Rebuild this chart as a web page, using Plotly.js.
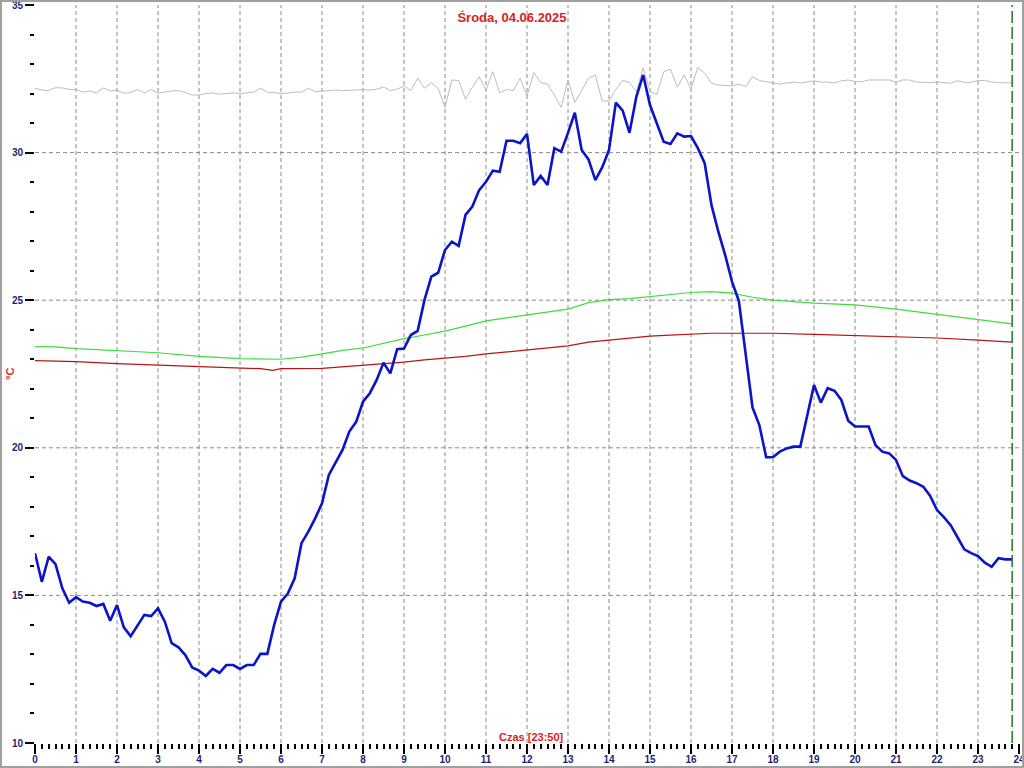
<!DOCTYPE html>
<html>
<head>
<meta charset="utf-8">
<script src="https://cdn.plot.ly/plotly-3.0.1.min.js"></script>
<style>
html,body{margin:0;padding:0;background:#fff;overflow:hidden;}
#wrap{position:relative;width:1024px;height:768px;}
#chart{position:absolute;left:0;top:0;width:1024px;height:768px;}
#frame{position:absolute;left:0;top:0;width:1024px;height:768px;box-sizing:border-box;border:2px solid #a0a0a0;pointer-events:none;}
</style>
</head>
<body>
<div id="wrap"><div id="chart"></div><div id="frame"></div></div>
<script>
// ---- DATA (10-minute samples, one row per hour) ----
const titleText = 'Środa, 04.06.2025';
const xTitleText = 'Czas [23:50]';
const yTitleText = '°C';
const hourTicks = [0,1,2,3,4,5,6,7,8,9,10,11,12,13,14,15,16,17,18,19,20,21,22,23,24];
const tempTicks = [10,15,20,25,30,35];
const gridHours = [1,2,3,4,5,6,7,8,9,10,11,12,13,14,15,16,17,18,19,20,21,22,23];
const gridTemps = [15,20,25,30];
const samplesPerHour = 6;

const outdoorTemp = [
  16.43, 15.46, 16.31, 16.06, 15.24, 14.75,
  14.94, 14.79, 14.75, 14.64, 14.71, 14.14,
  14.67, 13.92, 13.62, 13.96, 14.34, 14.30,
  14.56, 14.11, 13.38, 13.24, 12.98, 12.56,
  12.45, 12.27, 12.51, 12.38, 12.64, 12.64,
  12.51, 12.64, 12.64, 13.02, 13.02, 14.00,
  14.79, 15.06, 15.58, 16.77, 17.16, 17.61,
  18.12, 19.08, 19.53, 19.93, 20.55, 20.88,
  21.56, 21.85, 22.30, 22.88, 22.52, 23.34,
  23.36, 23.82, 23.96, 25.01, 25.80, 25.93,
  26.70, 26.98, 26.84, 27.89, 28.17, 28.73,
  29.01, 29.39, 29.35, 30.40, 30.40, 30.32,
  30.63, 28.90, 29.21, 28.90, 30.15, 30.03,
  30.67, 31.35, 30.09, 29.77, 29.07, 29.50,
  30.09, 31.69, 31.42, 30.67, 31.89, 32.63,
  31.61, 30.99, 30.37, 30.29, 30.65, 30.54,
  30.56, 30.15, 29.64, 28.22, 27.32, 26.53,
  25.63, 24.98, 23.09, 21.37, 20.77, 19.68,
  19.68, 19.87, 19.98, 20.04, 20.04, 21.11,
  22.13, 21.53, 22.02, 21.93, 21.62, 20.92,
  20.72, 20.72, 20.72, 20.09, 19.87, 19.81,
  19.59, 19.04, 18.89, 18.80, 18.68, 18.37,
  17.89, 17.65, 17.38, 16.97, 16.56, 16.43,
  16.33, 16.11, 15.97, 16.26, 16.22, 16.22
];

const greySeries = [
  32.18, 32.12, 32.10, 32.20, 32.19, 32.14,
  32.14, 32.05, 32.09, 32.02, 32.19, 32.09,
  32.12, 32.01, 32.04, 32.14, 32.02, 32.14,
  32.01, 32.05, 32.09, 32.10, 32.04, 31.95,
  31.95, 32.00, 32.02, 31.98, 32.00, 32.02,
  32.00, 32.03, 32.05, 32.18, 32.05, 32.03,
  32.00, 32.02, 32.05, 32.05, 32.18, 32.06,
  32.08, 32.10, 32.12, 32.10, 32.12, 32.12,
  32.13, 32.12, 32.15, 32.22, 32.10, 32.15,
  32.26, 32.10, 32.52, 32.18, 32.37, 32.18,
  31.53, 32.46, 32.44, 31.81, 32.21, 32.57,
  32.12, 32.74, 32.03, 32.14, 32.10, 32.52,
  31.92, 32.71, 32.37, 32.32, 31.95, 31.53,
  32.46, 31.70, 32.10, 32.52, 32.63, 31.75,
  31.75, 32.14, 32.45, 32.37, 32.07, 32.87,
  32.07, 31.97, 32.74, 32.82, 32.22, 32.63,
  32.15, 32.89, 32.69, 32.35, 32.29, 32.27,
  32.26, 32.32, 32.23, 32.57, 32.44, 32.40,
  32.36, 32.32, 32.36, 32.39, 32.36, 32.39,
  32.43, 32.39, 32.39, 32.36, 32.43, 32.46,
  32.41, 32.40, 32.46, 32.46, 32.46, 32.46,
  32.39, 32.46, 32.46, 32.39, 32.38, 32.37,
  32.39, 32.37, 32.35, 32.43, 32.38, 32.38,
  32.44, 32.45, 32.39, 32.37, 32.37, 32.36
];

const greenTimes = [0,0.5,1,2,3,4,5,6,6.5,7,7.5,8,8.5,9,9.5,10,10.5,11,11.5,12,12.5,13,13.5,14,14.5,15,15.5,16,16.5,17,17.5,18,19,20,21,22,23,23.83];
const greenTemp  = [23.43,23.42,23.36,23.30,23.22,23.10,23.02,23.00,23.07,23.18,23.30,23.38,23.55,23.70,23.82,23.95,24.12,24.30,24.40,24.50,24.58,24.70,24.92,25.02,25.05,25.12,25.20,25.26,25.29,25.24,25.10,25.00,24.90,24.84,24.70,24.52,24.35,24.20];

const redTimes = [0,1,2,3,4,5,5.5,5.8,6,7,7.5,8,9,9.5,10,10.5,11,11.5,12,12.5,13,13.5,14,14.5,15,15.5,16,16.5,17,18,19,19.5,20,21,22,23,23.83];
const redTemp  = [22.95,22.92,22.85,22.80,22.75,22.70,22.68,22.62,22.68,22.69,22.74,22.80,22.90,22.98,23.03,23.10,23.18,23.25,23.33,23.38,23.45,23.58,23.65,23.72,23.78,23.82,23.86,23.88,23.88,23.88,23.84,23.82,23.80,23.76,23.72,23.65,23.58];

// sample times in hours
const sampleTimes = outdoorTemp.map((_, i) => i / samplesPerHour);
const lastTime = sampleTimes[sampleTimes.length - 1];

const FONT = 'Liberation Sans, Arial, sans-serif';
const NAVY = '#1f1f72';
const RED = '#dd1c1c';

const traces = [
  {x: sampleTimes, y: greySeries, type: 'scatter', mode: 'lines',
   line: {color: '#bdbdbd', width: 1}, hoverinfo: 'skip'},
  {x: greenTimes, y: greenTemp, type: 'scatter', mode: 'lines',
   line: {color: '#3fdc3f', width: 1.2}},
  {x: redTimes, y: redTemp, type: 'scatter', mode: 'lines',
   line: {color: '#b81414', width: 1.2}},
  {x: sampleTimes, y: outdoorTemp, type: 'scatter', mode: 'lines',
   line: {color: '#0a14c8', width: 2.6}}
];

const gridStyle = {color: '#8a8a8a', width: 1, dash: '4px,3px'};
const shapes = [];
gridHours.forEach(h => shapes.push({type: 'line', xref: 'x', yref: 'paper', x0: h, x1: h, y0: 0, y1: 1, layer: 'below', line: gridStyle}));
gridTemps.forEach(t => shapes.push({type: 'line', xref: 'paper', yref: 'y', x0: 0, x1: 1, y0: t, y1: t, layer: 'below', line: gridStyle}));
shapes.push({type: 'line', xref: 'x', yref: 'paper', x0: lastTime, x1: lastTime, y0: 0, y1: 1, layer: 'above',
  line: {color: '#1f7a1f', width: 1.5, dash: '12px,4px'}});

const layout = {
  width: 1024, height: 768,
  margin: {l: 35, r: 5, t: 5, b: 25},
  paper_bgcolor: '#ffffff', plot_bgcolor: '#ffffff',
  showlegend: false,
  title: {text: titleText, x: 0.5, xref: 'container', xanchor: 'center', y: 1 - 17/768, yref: 'container', yanchor: 'middle',
    font: {family: FONT, size: 13, color: RED, weight: 'bold'}},
  xaxis: {range: [0, 24], tickvals: hourTicks, ticktext: hourTicks.map(String),
    ticks: 'outside', ticklen: 10, tickwidth: 2, tickcolor: '#000',
    minor: {dtick: 1/6, tick0: 0, ticks: 'outside', ticklen: 5, tickwidth: 2, tickcolor: '#000', showgrid: false},
    showgrid: false, zeroline: false, showline: false, fixedrange: true, ticklabeloverflow: 'allow',
    tickfont: {family: FONT, size: 10, color: NAVY, weight: 'bold'}, ticklabelstandoff: -3},
  yaxis: {range: [10, 35], tickvals: tempTicks, ticktext: tempTicks.map(String),
    ticks: 'outside', ticklen: 9, tickwidth: 2, tickcolor: '#000',
    minor: {dtick: 1, tick0: 0, ticks: 'outside', ticklen: 4, tickwidth: 2, tickcolor: '#000', showgrid: false},
    showgrid: false, zeroline: false, showline: false, fixedrange: true, ticklabeloverflow: 'allow',
    tickfont: {family: FONT, size: 10, color: NAVY, weight: 'bold'}},
  shapes: shapes,
  annotations: [
    {text: xTitleText, xref: 'paper', yref: 'paper', x: (531-35)/984, y: (743-737)/738, xanchor: 'center', yanchor: 'middle',
     showarrow: false, font: {family: FONT, size: 11, color: RED, weight: 'bold'}},
    {text: yTitleText, xref: 'paper', yref: 'paper', x: (10-35)/984, y: 0.5, xanchor: 'center', yanchor: 'middle',
     textangle: -90, showarrow: false, font: {family: FONT, size: 11, color: RED, weight: 'bold'}}
  ]
};

Plotly.newPlot('chart', traces, layout, {displayModeBar: false, staticPlot: true});
</script>
</body>
</html>
